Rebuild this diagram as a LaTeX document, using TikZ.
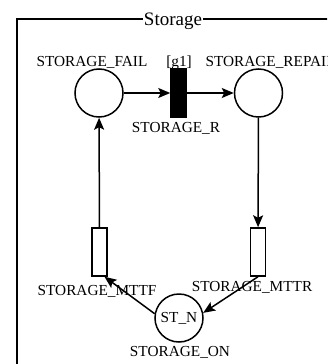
\documentclass[tikz,border=0pt]{standalone}
\usepackage{fontspec}
\setmainfont{Liberation Serif}
\usetikzlibrary{arrows.meta}
\begin{document}
\begin{tikzpicture}[x=1pt,y=-1pt,
  place/.style={draw,circle,line width=1.5pt,minimum size=48pt,inner sep=0pt},
  trans/.style={draw,rectangle,line width=1.5pt,minimum width=15pt,minimum height=48pt,inner sep=0pt},
  immtrans/.style={trans,fill=black},
  txt/.style={font=\fontsize{15.3pt}{18pt}\selectfont},
  lbl/.style={txt,anchor=base,inner sep=0pt},
  arc/.style={line width=1.5pt,-{Stealth[length=12pt,width=10pt,inset=2.5pt]}}]
\useasboundingbox (0,0) rectangle (327,364);
\clip (0,0) rectangle (327,364);

% module frame with its title
\draw[line width=1.1pt] (340,19) -- (17,19) -- (17,380);
\node[anchor=base,inner sep=0pt,inner xsep=0.5pt,fill=white,
      font=\fontsize{19pt}{22pt}\selectfont] (title) at (173,25) {Storage};

% places and transitions
\node[place] (sfail) at (99,93) {};
\node[immtrans] (sr) at (178.5,93) {};
\node[place] (srepair) at (258.5,93) {};
\node[trans] (mttf) at (99.5,252) {};
\node[trans] (mttr) at (258,252) {};
\node[place,txt] (ston) at (179,318) {ST\_N};

% labels
\node[lbl] (lfail) at (92,66) {STORAGE\_FAIL};
\node[lbl] (lg) at (179,66) {[g1]};
\node[lbl] (lrepair) at (271,66) {STORAGE\_REPAIR};
\node[lbl] (lr) at (176,132) {STORAGE\_R};
\node[lbl] (lmttf) at (97,295) {STORAGE\_MTTF};
\node[lbl] (lmttr) at (252,291) {STORAGE\_MTTR};
\node[lbl] (lon) at (180,356) {STORAGE\_ON};

% arcs
\draw[arc] (sfail) -- (sr);
\draw[arc] (sr) -- (srepair);
\draw[arc] (srepair) -- (mttr);
\draw[arc] (mttr.south) -- (ston.12);
\draw[arc] (ston.170) -- ([xshift=5pt]mttf.south);
\draw[arc] (mttf) -- (sfail);
\end{tikzpicture}
\end{document}
